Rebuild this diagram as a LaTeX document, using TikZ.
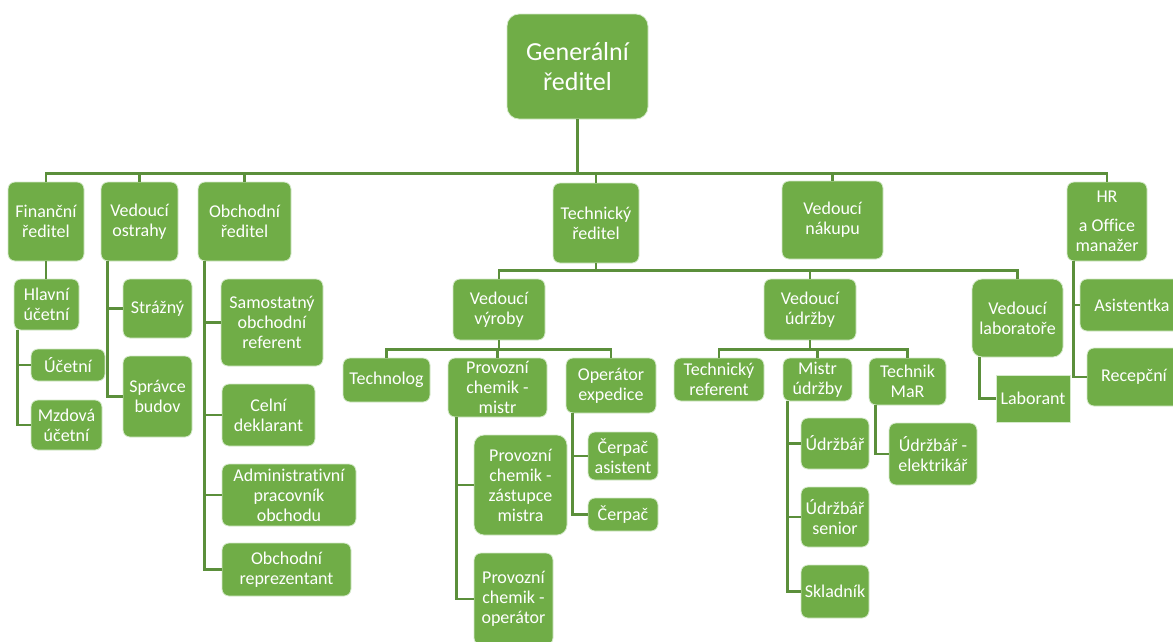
\documentclass[tikz,border=0pt]{standalone}
\usepackage{fontspec}
\setmainfont{Carlito}[Ligatures={NoCommon}]
\definecolor{boxgreen}{HTML}{70AD47}
\definecolor{linegreen}{HTML}{5B8F3B}
\definecolor{edgegreen}{HTML}{D5EACB}
\begin{document}
\begin{tikzpicture}[x=1pt,y=-1pt,
  box/.style={draw=edgegreen, line width=0.8pt, fill=boxgreen, rounded corners=7pt,
    text=white, align=center, inner sep=0pt, font=\fontsize{18}{20}\selectfont},
  sz/.style 2 args={minimum width=#1pt, minimum height=#2pt},
  conn/.style={draw=linegreen, line width=2.6pt}]
\useasboundingbox (0,0) rectangle (1173,641);
\clip (0,0) rectangle (1173,641);
\fill[white] (0,0) rectangle (1173,641);

% top
\node[box,sz={141}{105},rounded corners=12pt,font=\fontsize{26}{30}\selectfont] (gen) at (577.5,66.5) {Generální\\ředitel};

% level 1
\node[box,sz={76}{79}] (fin) at (46,221.5) {Finanční\\ředitel};
\node[box,sz={77}{79}] (ostr) at (139.5,221.5) {Vedoucí\\ostrahy};
\node[box,sz={93}{79}] (obch) at (244.5,221.5) {Obchodní\\ředitel};
\node[box,sz={86}{80}] (tech) at (596,223) {Technický\\ředitel};
\node[box,sz={101}{78}] (nak) at (832.5,220) {Vedoucí\\nákupu};
\node[box,sz={80}{79}] (hr) at (1107,221.5) {HR\\[9pt]a Office\\manažer};

% finance
\node[box,sz={65}{51}] (hlav) at (46.5,304.5) {Hlavní\\účetní};
\node[box,sz={74}{32}] (uc) at (68,365) {Účetní};
\node[box,sz={71}{50}] (mzd) at (66.5,425) {Mzdová\\účetní};

% security
\node[box,sz={69}{59}] (straz) at (157.5,308.5) {Strážný};
\node[box,sz={69}{81}] (sprav) at (157.5,396.5) {Správce\\budov};

% sales
\node[box,sz={102}{87}] (samo) at (272,322.5) {Samostatný\\obchodní\\referent};
\node[box,sz={93}{62}] (celn) at (268.5,415) {Celní\\deklarant};
\node[box,sz={134}{62}] (admin) at (289,495) {Administrativní\\pracovník\\obchodu};
\node[box,sz={129}{53}] (repr) at (286.5,569.5) {Obchodní\\reprezentant};

% technical director subtree
\node[box,sz={92}{61}] (vyr) at (499,309.5) {Vedoucí\\výroby};
\node[box,sz={92}{61}] (udr) at (810,309.5) {Vedoucí\\údržby};
\node[box,sz={91}{78},rounded corners=10pt] (lab) at (1017.5,318) {Vedoucí\\laboratoře};

% production
\node[box,sz={87}{44}] (techn) at (386.5,380) {Technolog};
\node[box,sz={99}{59}] (pcm) at (497.5,387.5) {Provozní\\chemik -\\mistr};
\node[box,sz={90}{55}] (opex) at (611,385.5) {Operátor\\expedice};
\node[box,sz={93}{100},rounded corners=10pt] (pczm) at (520.5,485) {Provozní\\chemik -\\zástupce\\mistra};
\node[box,sz={79}{92}] (pcop) at (513.5,599) {Provozní\\chemik -\\operátor};
\node[box,sz={70}{48}] (cerpa) at (623,456) {Čerpač\\asistent};
\node[box,sz={70}{33}] (cerp) at (623,514.5) {Čerpač};

% maintenance
\node[box,sz={90}{43}] (tref) at (719,379.5) {Technický\\referent};
\node[box,sz={69}{43}] (mistr) at (817.5,379.5) {Mistr\\údržby};
\node[box,sz={77}{47}] (mar) at (907.5,381.5) {Technik\\MaR};
\node[box,sz={68}{51}] (udrz) at (835,443.5) {Údržbář};
\node[box,sz={68}{60}] (udrs) at (835,517) {Údržbář\\senior};
\node[box,sz={68}{53}] (sklad) at (835,591.5) {Skladník};
\node[box,sz={88}{62}] (elek) at (933,454) {Údržbář -\\elektrikář};

% laboratory
\node[box,sz={74}{47},sharp corners] (labor) at (1033,398.5) {Laborant};

% HR
\node[box,sz={104}{52}] (asis) at (1132,305) {Asistentka};
\node[box,sz={94}{58}] (recep) at (1134,377) {Recepční};

% connectors: top level
\foreach \c in {fin,ostr,obch,tech,nak,hr}
  \draw[conn] (gen.south) -- ++(0,54) -| (\c.north);

% finance
\draw[conn] (fin.south) -- (fin.south |- hlav.north);
\foreach \c in {uc,mzd}
  \draw[conn] ([xshift=4pt]hlav.south west) |- (\c.west);

% security
\foreach \c in {straz,sprav}
  \draw[conn] ([xshift=7pt]ostr.south west) |- (\c.west);

% sales
\foreach \c in {samo,celn,admin,repr}
  \draw[conn] ([xshift=7pt]obch.south west) |- (\c.west);

% technical
\foreach \c in {vyr,udr,lab}
  \draw[conn] (tech.south) -- ++(0,7) -| (\c.north);

% production
\foreach \c in {techn,pcm,opex}
  \draw[conn] (vyr.south) -- ++(0,9) -| (\c.north);
\foreach \c in {pczm,pcop}
  \draw[conn] ([xshift=9pt]pcm.south west) |- (\c.west);
\foreach \c in {cerpa,cerp}
  \draw[conn] ([xshift=7pt]opex.south west) |- (\c.west);

% maintenance
\foreach \c in {tref,mistr,mar}
  \draw[conn] (udr.south) -- ++(0,9) -| (\c.north);
\foreach \c in {udrz,udrs,sklad}
  \draw[conn] ([xshift=5pt]mistr.south west) |- (\c.west);
\draw[conn] ([xshift=7pt]mar.south west) |- (elek.west);

% laboratory
\draw[conn] ([xshift=8pt]lab.south west) |- (labor.west);

% HR
\foreach \c in {asis,recep}
  \draw[conn] ([xshift=7pt]hr.south west) |- (\c.west);
\end{tikzpicture}
\end{document}
